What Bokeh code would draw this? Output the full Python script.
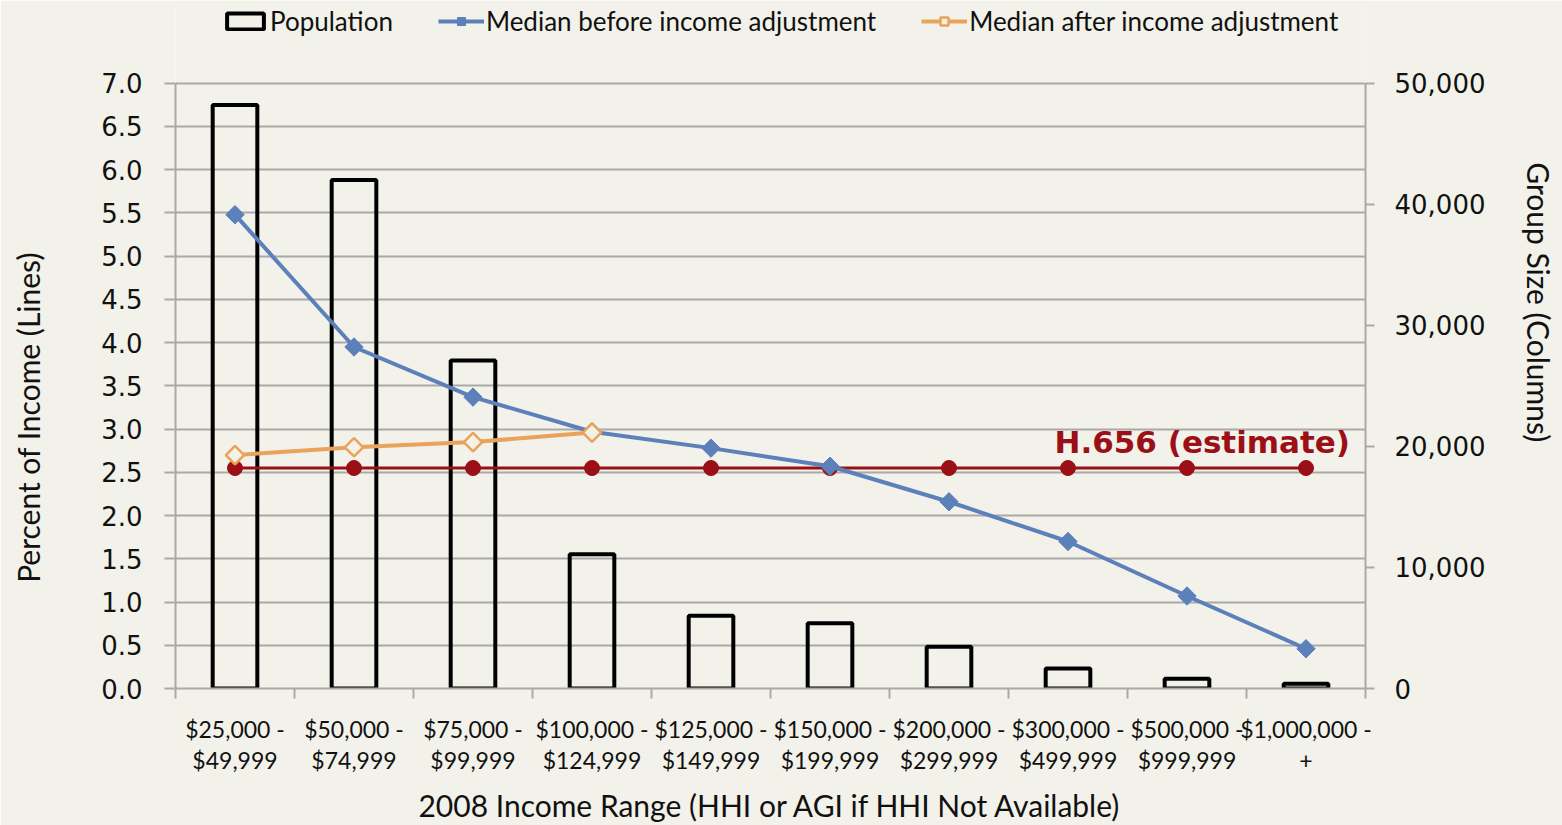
from bokeh.plotting import figure
from bokeh.models import (Range1d, LinearAxis, FixedTicker, NumeralTickFormatter,
                          Legend, LegendItem, Label)
from bokeh.embed import file_html
from bokeh.resources import INLINE
import math

# ---------------- data ----------------
categories = ["$25,000 -\n$49,999", "$50,000 -\n$74,999", "$75,000 -\n$99,999",
              "$100,000 -\n$124,999", "$125,000 -\n$149,999", "$150,000 -\n$199,999",
              "$200,000 -\n$299,999", "$300,000 -\n$499,999", "$500,000 -\n$999,999",
              "$1,000,000 -\n+"]
population = [48200, 42000, 27100, 11100, 6000, 5400, 3450, 1650, 800, 400]
median_before = [5.48, 3.95, 3.37, 2.97, 2.78, 2.57, 2.16, 1.70, 1.07, 0.46]
median_after = [2.70, 2.79, 2.85, 2.96]
h656 = [2.55, 2.55, 2.55, 2.55, 2.55, 2.55, 2.55, 2.55, 2.55, 2.55]
left_ticks = [0.0, 0.5, 1.0, 1.5, 2.0, 2.5, 3.0, 3.5, 4.0, 4.5, 5.0, 5.5, 6.0, 6.5, 7.0]
right_ticks = [0, 10000, 20000, 30000, 40000, 50000]
annotation = "H.656 (estimate)"
left_title = "Percent of Income (Lines)"
right_title = "Group Size (Columns)"
x_title = "2008 Income Range (HHI or AGI if HHI Not Available)"

# ---------------- styles ----------------
BG = "#f2f1ea"
GRID = "#a9a9a9"
BLUE = "#5b80ba"
ORANGE = "#e9a35a"
RED = "#9b1016"
TXT = "#111111"
NBSP = "\u00a0"  # trailing padding nudges the vertical axis titles down

n = len(categories)
xs = [i + 0.5 for i in range(n)]
xs_after = xs[:len(median_after)]

# frame runs from the top of the canvas down to the x axis (y=690 px);
# the axes themselves are bounded to 0..7 / 0..50,000 which end at y=83 px
FRAME_BOTTOM = 690
AXIS_TOP = 83
stretch = FRAME_BOTTOM / (FRAME_BOTTOM - AXIS_TOP)
left_max = left_ticks[-1]
right_max = right_ticks[-1]

p = figure(width=1562, height=825, output_backend="svg", toolbar_location=None,
           x_range=Range1d(0, n), y_range=Range1d(0, left_max * stretch),
           min_border_left=175, min_border_right=197, min_border_top=0,
           min_border_bottom=135)
p.background_fill_color = BG
p.border_fill_color = BG
p.outline_line_color = None

p.extra_y_ranges = {"grp": Range1d(0, right_max * stretch)}

# bars
bars = p.vbar(x=xs, top=population, bottom=0, width=0.375, y_range_name="grp",
              fill_color=None, line_color="black", line_width=4)

# H.656 estimate line
p.line(xs, h656, line_color=RED, line_width=3)
p.scatter(xs, h656, marker="circle", size=15, fill_color=RED, line_color=RED)

# median before
bl = p.line(xs, median_before, line_color=BLUE, line_width=4)
bm = p.scatter(xs, median_before, marker="square", angle=math.pi / 4, size=13,
               fill_color=BLUE, line_color=BLUE)

# median after
ol = p.line(xs_after, median_after, line_color=ORANGE, line_width=4)
om = p.scatter(xs_after, median_after, marker="square", angle=math.pi / 4, size=13,
               fill_color=BG, line_color=ORANGE, line_width=2.5)

# annotation
p.add_layout(Label(x=9.87, y=2.85, text=annotation, text_align="right",
                   text_baseline="middle", text_font="DejaVu Sans",
                   text_font_style="bold", text_font_size="31px", text_color=RED))

# ---------------- axes ----------------
# left
ya = p.yaxis[0]
ya.bounds = (0, left_max)
ya.ticker = FixedTicker(ticks=left_ticks)
ya.formatter = NumeralTickFormatter(format="0.0")
ya.axis_label = left_title + NBSP * 19
ya.axis_label_text_font = "Lato"
ya.axis_label_text_font_style = "normal"
ya.axis_label_text_font_size = "30px"
ya.axis_label_text_color = TXT
ya.axis_label_standoff = 52
ya.major_label_text_font = "DejaVu Sans"
ya.major_label_text_font_size = "26px"
ya.major_label_text_color = TXT
ya.major_label_standoff = 22
ya.axis_line_color = GRID
ya.axis_line_width = 2
ya.major_tick_line_color = GRID
ya.major_tick_line_width = 2
ya.major_tick_out = 11
ya.major_tick_in = 0
ya.minor_tick_line_color = None

p.ygrid.ticker = FixedTicker(ticks=left_ticks)
p.ygrid.grid_line_color = GRID
p.ygrid.grid_line_width = 2
p.xgrid.visible = False

# right
ra = LinearAxis(y_range_name="grp", ticker=FixedTicker(ticks=right_ticks),
                formatter=NumeralTickFormatter(format="0,0"), bounds=(0, right_max))
ra.axis_label = right_title + NBSP * 11
ra.axis_label_text_font = "Lato"
ra.axis_label_text_font_style = "normal"
ra.axis_label_text_font_size = "30px"
ra.axis_label_text_color = TXT
ra.axis_label_standoff = 33
if "axis_label_orientation" in ra.properties():
    ra.axis_label_orientation = "vertical"
ra.major_label_text_font = "DejaVu Sans"
ra.major_label_text_font_size = "26px"
ra.major_label_text_color = TXT
ra.major_label_standoff = 20
ra.axis_line_color = GRID
ra.axis_line_width = 2
ra.major_tick_line_color = GRID
ra.major_tick_line_width = 2
ra.major_tick_out = 9
ra.major_tick_in = 0
ra.minor_tick_line_color = None
p.add_layout(ra, "right")

# bottom
xa = p.xaxis[0]
xa.ticker = FixedTicker(ticks=xs, minor_ticks=list(range(n + 1)))
xa.major_label_overrides = {x: c for x, c in zip(xs, categories)}
xa.major_tick_line_color = None
xa.minor_tick_line_color = GRID
xa.minor_tick_line_width = 2
xa.minor_tick_out = 10
xa.minor_tick_in = 0
xa.axis_line_color = GRID
xa.axis_line_width = 2
xa.major_label_text_font = "Lato"
xa.major_label_text_font_size = "23px"
xa.major_label_text_color = TXT
xa.major_label_text_line_height = 1.12
xa.major_label_standoff = 16
xa.axis_label = x_title
xa.axis_label_text_font = "Lato"
xa.axis_label_text_font_style = "normal"
xa.axis_label_text_font_size = "30px"
xa.axis_label_text_color = TXT
xa.axis_label_standoff = 10

# ---------------- legend ----------------
legend = Legend(items=[LegendItem(label="Population", renderers=[bars]),
                       LegendItem(label="Median before income adjustment", renderers=[bl, bm]),
                       LegendItem(label="Median after income adjustment", renderers=[ol, om])],
                orientation="horizontal", location=(47, 651),
                label_text_font="Lato", label_text_font_size="26px", label_text_color=TXT,
                glyph_width=46, glyph_height=20, spacing=45, label_standoff=2,
                padding=0, margin=0, background_fill_alpha=0, border_line_color=None)
p.add_layout(legend, "center")

open("out.html", "w").write(file_html(p, INLINE))
